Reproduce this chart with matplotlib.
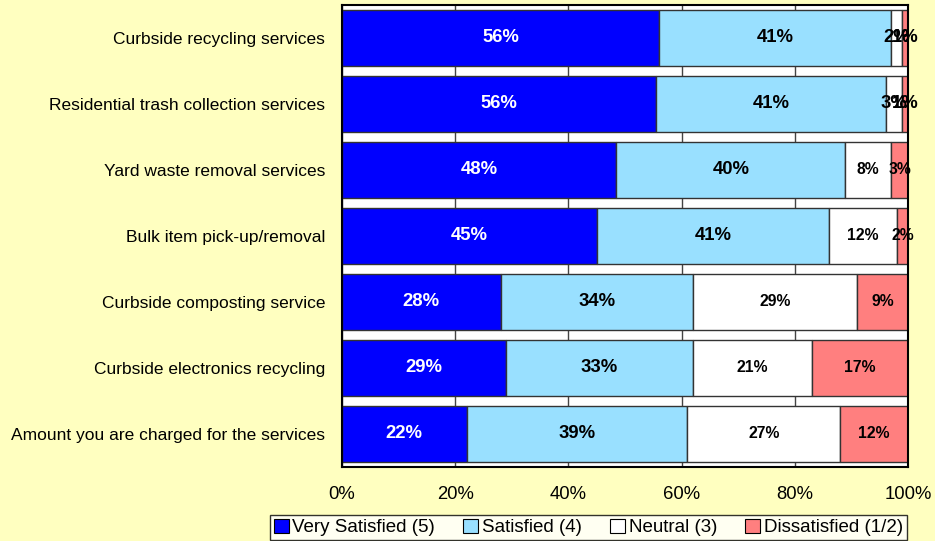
import matplotlib.pyplot as plt
import numpy as np

plt.rcParams['font.family'] = ['Liberation Sans', 'DejaVu Sans']

services = [
    "Curbside recycling services",
    "Residential trash collection services",
    "Yard waste removal services",
    "Bulk item pick-up/removal",
    "Curbside composting service",
    "Curbside electronics recycling",
    "Amount you are charged for the services",
]
very_satisfied = [56, 56, 48, 45, 28, 29, 22]
satisfied = [41, 41, 40, 41, 34, 33, 39]
neutral = [2, 3, 8, 12, 29, 21, 27]
dissatisfied = [1, 1, 3, 2, 9, 17, 12]

series_names = ["Very Satisfied (5)", "Satisfied (4)", "Neutral (3)", "Dissatisfied (1/2)"]
colors = ["#0000FF", "#99E0FF", "#FFFFFF", "#FF7F7F"]
text_colors = ["white", "black", "black", "black"]

data = np.array([very_satisfied, satisfied, neutral, dissatisfied], dtype=float)
shares = data / data.sum(axis=0) * 100  # 100% stacked

fig = plt.figure(figsize=(9.35, 5.41), dpi=100)
fig.patch.set_facecolor("#FFFFC0")
ax = fig.add_axes([0.3658, 0.1368, 0.6054, 0.854])
ax.set_facecolor("white")

y = np.arange(len(services))
left = np.zeros(len(services))
for i in range(4):
    ax.barh(y, shares[i], left=left, height=0.85, color=colors[i],
            edgecolor="#333333", linewidth=1, label=series_names[i], zorder=2)
    for j in range(len(services)):
        big = i < 2 or j < 2
        ax.text(left[j] + shares[i][j] / 2, y[j], f"{int(data[i][j])}%",
                ha="center", va="center", color=text_colors[i],
                fontsize=13.3 if big else 11.3, fontweight="bold", zorder=3)
    left += shares[i]

ax.set_xlim(0, 100)
ax.set_ylim(len(services) - 0.5, -0.5)
ax.set_yticks(y)
ax.set_yticklabels(services, fontsize=12.5)
ax.tick_params(axis="y", length=0, pad=12)
ax.set_xticks(np.arange(0, 101, 20))
ax.set_xticklabels([f"{v}%" for v in range(0, 101, 20)], fontsize=13.3)
ax.tick_params(axis="x", length=0, pad=14)
ax.grid(axis="x", color="#444444", linewidth=1, zorder=1)
ax.set_axisbelow(True)
for s in ax.spines.values():
    s.set_linewidth(1.5)
    s.set_color("black")
    s.set_zorder(4)

leg = fig.legend(loc="lower right", bbox_to_anchor=(0.971, 0.0), ncol=4,
                 fontsize=13.5, frameon=True, fancybox=False, edgecolor="black",
                 handlelength=0.8, handleheight=0.8, handletextpad=0.2,
                 columnspacing=1.5, borderpad=0.2, borderaxespad=0.05)
leg.get_frame().set_linewidth(1)
for h in leg.legend_handles:
    h.set_edgecolor("black")
    h.set_linewidth(0.8)

fig.savefig("out.png", dpi=100, facecolor=fig.get_facecolor())
